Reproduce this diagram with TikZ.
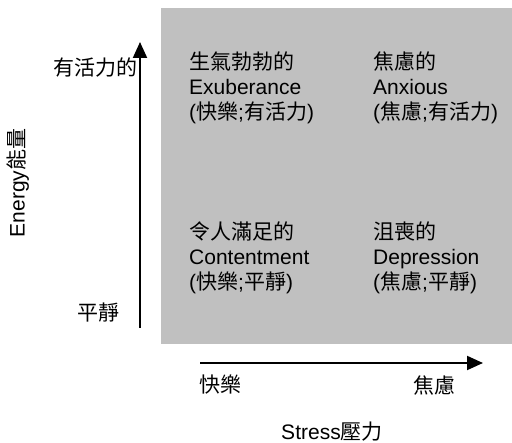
\documentclass[tikz,border=0pt]{standalone}
\usepackage{fontspec}
\setmainfont{Liberation Sans}
\newfontfamily\cjk{Noto Sans CJK TC}
\usetikzlibrary{arrows.meta}

\newcommand{\hanzi}[1]{{\cjk #1}}
\definecolor{quadgray}{RGB}{192,192,192}

\tikzset{
  quad/.style = {anchor=north west, inner sep=0pt, align=left,
                 font=\fontsize{21}{25}\selectfont},
  lbl/.style  = {inner sep=0pt, font=\fontsize{21}{25}\selectfont},
  axis/.style = {line width=2pt, -{Triangle[length=16pt,width=14pt]}}
}

\begin{document}
\begin{tikzpicture}[x=1pt, y=-1pt]
        \useasboundingbox (0,0) rectangle (512,443);
        \fill[quadgray] (161,8) rectangle (512,344);

        % quadrants
        \node[quad] (exub)   at (189,52)  {\hanzi{生氣勃勃的}\\Exuberance\\(\hanzi{快樂};\hanzi{有活力})};
        \node[quad] (anx)    at (373,52)  {\hanzi{焦慮的}\\Anxious\\(\hanzi{焦慮};\hanzi{有活力})};
        \node[quad] (cont)   at (189,222) {\hanzi{令人滿足的}\\Contentment\\(\hanzi{快樂};\hanzi{平靜})};
        \node[quad] (depr)   at (373,222) {\hanzi{沮喪的}\\Depression\\(\hanzi{焦慮};\hanzi{平靜})};

        % axes
        \coordinate (ybot) at (140,328);
        \coordinate (ytop) at (140,42);
        \coordinate (xlft) at (200,363);
        \coordinate (xrgt) at (483,363);
        \draw[axis] (ybot) -- (ytop);
        \draw[axis] (xlft) -- (xrgt);

        \node[lbl, anchor=east] (high)  at (138,68)  {\hanzi{有活力的}};
        \node[lbl, anchor=east] (calm)  at (120,313) {\hanzi{平靜}};
        \node[lbl, anchor=west] (happy) at (199,385) {\hanzi{快樂}};
        \node[lbl, anchor=east] (tense) at (456,385) {\hanzi{焦慮}};
        \node[lbl] (stress) at (332,432) {Stress\hanzi{壓力}};
        \node[lbl, rotate=90] (energy) at (18,183) {Energy\hanzi{能量}};
    \end{tikzpicture}
\end{document}
